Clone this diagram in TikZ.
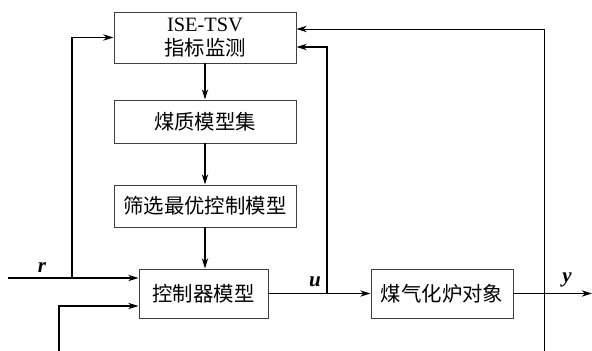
\documentclass[tikz,border=0pt]{standalone}
\usepackage{amsmath}
\usepackage{bm}
\usepackage{fontspec}
\setmainfont{Liberation Serif}
\newfontfamily\cjk{Noto Sans CJK SC}
\usetikzlibrary{arrows.meta}

\begin{document}
\begin{tikzpicture}[>={Stealth[length=2.6mm,width=1.6mm]},line width=0.8pt,
  block/.style={shape=rectangle,draw=black!75,line width=0.7pt,inner sep=0pt,align=center,font=\fontsize{14.5}{17}\selectfont\cjk},
  sig/.style={font=\fontsize{15}{17}\selectfont\bfseries\itshape}]
\useasboundingbox (0,0) rectangle (14.8,8.775);
\path (5.125,7.8375) node (ise) [block,minimum width=4.55cm,minimum height=1.275cm] {{\rmfamily ISE-TSV}\\指标监测};
\path (5.125,5.7375) node (coal) [block,minimum width=4.55cm,minimum height=1.075cm] {煤质模型集};
\path (5.125,3.625) node (sel) [block,minimum width=4.55cm,minimum height=1.05cm] {筛选最优控制模型};
\path (5.0875,1.4375) node (ctrl) [block,minimum width=3.225cm,minimum height=1.225cm] {控制器模型};
\path (11.05,1.4375) node (plant) [block,minimum width=3.55cm,minimum height=1.225cm] {煤气化炉对象};

\coordinate (rin) at (0.2,1.825);
\coordinate (rj) at (1.8,1.825);
\coordinate (din) at (1.475,0);
\coordinate (dturn) at (1.475,1.125);
\coordinate (uj) at (8.175,1.4375);
\coordinate (utop) at (8.175,7.6);
\coordinate (yout) at (14.8,1.4375);
\coordinate (ybot) at (13.6,0);
\coordinate (ytop) at (13.6,8.05);

\draw [->] (ise) to (coal);
\draw [->] (coal) to (sel);
\draw [->] (sel.south) to (sel.south |- ctrl.north);

\draw [->] (rin) -- (rin -| ctrl.west);
\draw [->] (rj) |- (ise.west);
\draw [->] (din) -- (dturn) -- (dturn -| ctrl.west);
\draw [->] (ctrl) to (plant);
\draw [->] (uj) -- (utop) -- (utop -| ise.east);
\draw [->] (plant) to (yout);
\draw [->,line width=0.6pt] (ybot) -- (ytop) -- (ytop -| ise.east);

\path (1.05,2.075) node (r) [sig] {r};
\path (7.875,1.725) node (u) [sig] {u};
\path (14.175,1.775) node (y) [sig] {y};
\end{tikzpicture}
\end{document}
